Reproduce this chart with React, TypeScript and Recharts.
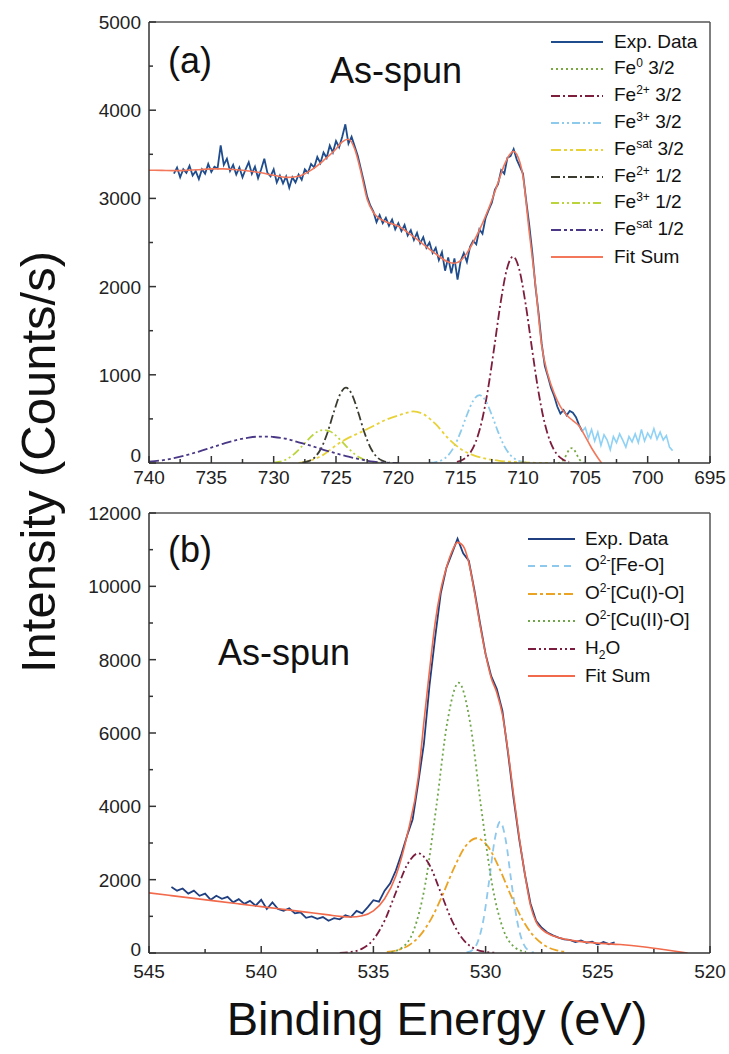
import React from "react";
import { LineChart, Line, XAxis, YAxis, ReferenceLine } from "recharts";

const FONT = '"Liberation Sans", Arial, Helvetica, sans-serif';
const INK = "#222";
const AXIS = "#333";

type P = [number, number];
const toPts = (a: P[]) => a.map(([x, y]) => ({ x, y }));

// ---------- (a) Fe 2p ----------
const feXTicks = [740, 737.5, 735, 732.5, 730, 727.5, 725, 722.5, 720, 717.5, 715, 712.5, 710, 707.5, 705, 702.5, 700, 697.5, 695];
const feXMajor = [740, 735, 730, 725, 720, 715, 710, 705, 700, 695];
const feYTicks = [0, 500, 1000, 1500, 2000, 2500, 3000, 3500, 4000, 4500, 5000];
const feYMajor = [0, 1000, 2000, 3000, 4000, 5000];

const feExp: P[] = [
  [738, 3280], [737.75, 3350], [737.5, 3240], [737.25, 3330], [737, 3290], [736.75, 3370], [736.5, 3260], [736.25, 3310],
  [736, 3220], [735.75, 3330], [735.5, 3280], [735.25, 3390], [735, 3300], [734.75, 3360], [734.5, 3340], [734.25, 3600],
  [734, 3380], [733.75, 3450], [733.5, 3310], [733.25, 3380], [733, 3270], [732.75, 3350], [732.5, 3240], [732.25, 3330],
  [732, 3410], [731.75, 3280], [731.5, 3360], [731.25, 3230], [731, 3330], [730.75, 3450], [730.5, 3290], [730.25, 3250],
  [730, 3330], [729.75, 3180], [729.5, 3260], [729.25, 3170], [729, 3250], [728.75, 3120], [728.5, 3240], [728.25, 3180],
  [728, 3270], [727.75, 3210], [727.5, 3330], [727.25, 3290], [727, 3390], [726.75, 3350], [726.5, 3470], [726.25, 3400],
  [726, 3520], [725.75, 3460], [725.5, 3600], [725.25, 3520], [725, 3650], [724.75, 3580], [724.5, 3700], [724.25, 3840],
  [724, 3620], [723.75, 3700], [723.5, 3590], [723.25, 3480], [723, 3330], [722.75, 3180], [722.5, 3020], [722.25, 2920],
  [722, 2850], [721.75, 2730], [721.5, 2810], [721.25, 2720], [721, 2780], [720.75, 2690], [720.5, 2760], [720.25, 2650],
  [720, 2720], [719.75, 2630], [719.5, 2700], [719.25, 2580], [719, 2640], [718.75, 2530], [718.5, 2610], [718.25, 2490],
  [718, 2560], [717.75, 2440], [717.5, 2500], [717.25, 2380], [717, 2440], [716.75, 2300], [716.5, 2390], [716.25, 2180],
  [716, 2330], [715.75, 2150], [715.5, 2320], [715.25, 2080], [715, 2290], [714.75, 2380], [714.5, 2280], [714.25, 2450],
  [714, 2520], [713.75, 2480], [713.5, 2650], [713.25, 2600], [713, 2780], [712.75, 2870], [712.5, 2950], [712.25, 3100],
  [712, 3160], [711.75, 3320], [711.5, 3280], [711.25, 3460], [711, 3480], [710.75, 3560], [710.5, 3440], [710.25, 3360],
  [710, 3280], [709.75, 2980], [709.5, 2700], [709.25, 2380], [709, 2000], [708.75, 1700], [708.5, 1350], [708.25, 1100],
  [708, 980], [707.75, 850], [707.5, 760], [707.25, 640], [707, 560], [706.75, 600], [706.5, 540], [706.25, 590],
  [706, 570], [705.75, 520], [705.5, 430], [705.25, 360],
];
const feExpTail: P[] = [
  [705.25, 360], [705, 400], [704.75, 280], [704.5, 380], [704.25, 250], [704, 350], [703.75, 200], [703.5, 320],
  [703.25, 260], [703, 150], [702.75, 300], [702.5, 230], [702.25, 330], [702, 260], [701.75, 180], [701.5, 300],
  [701.25, 240], [701, 330], [700.75, 230], [700.5, 380], [700.25, 250], [700, 340], [699.75, 280], [699.5, 390],
  [699.25, 270], [699, 350], [698.75, 260], [698.5, 310], [698.25, 180], [698, 140],
];
const fe0_32: P[] = [
  [707.2, 0], [706.9, 15], [706.7, 45], [706.5, 100], [706.3, 150], [706.1, 168], [705.9, 150], [705.7, 100],
  [705.5, 45], [705.3, 15], [705, 0],
];
const fe2_32: P[] = [
  [715.3, 13], [714.8, 40], [714.3, 103], [713.8, 236], [713.3, 475], [712.8, 843], [712.3, 1318], [711.8, 1813],
  [711.3, 2195], [710.8, 2340], [710.3, 2195], [709.8, 1813], [709.3, 1318], [708.8, 843], [708.3, 475], [707.8, 236],
  [707.3, 103], [706.8, 40], [706.3, 13],
];
const fe3_32: P[] = [
  [717.5, 3], [717, 11], [716.5, 34], [716, 88], [715.5, 192], [715, 353], [714.5, 544], [714, 706], [713.5, 770],
  [713, 706], [712.5, 544], [712, 353], [711.5, 192], [711, 88], [710.5, 34], [710, 11], [709.5, 3],
];
const feSat_32: P[] = [
  [728, 0], [727, 30], [726, 95], [725, 200], [724, 285], [723, 350], [722, 420], [721, 490], [720, 540], [719, 580],
  [718.8, 585], [718, 555], [717, 440], [716, 280], [715, 160], [714, 90], [713, 50], [712, 28], [711, 14], [710, 6],
  [709, 2], [708, 0],
];
const fe2_12: P[] = [
  [727.7, 5], [727.2, 21], [726.7, 65], [726.2, 164], [725.7, 337], [725.2, 566], [724.7, 771], [724.2, 855],
  [723.7, 771], [723.2, 566], [722.7, 337], [722.2, 164], [721.7, 65], [721.2, 21], [720.7, 5],
];
const fe3_12: P[] = [
  [730, 5], [729.5, 15], [729, 40], [728.5, 85], [728, 150], [727.5, 225], [727, 300], [726.5, 355], [726, 374],
  [725.5, 360], [725, 310], [724.5, 240], [724, 165], [723.5, 100], [723, 55], [722.5, 25], [722, 10], [721.5, 3],
];
const feSat_12: P[] = [
  [740, 15], [739, 30], [738, 55], [737, 90], [736, 130], [735, 175], [734, 220], [733, 260], [732, 288], [731, 300],
  [730.5, 300], [730, 295], [729, 275], [728, 235], [727, 195], [726, 150], [725, 110], [724, 72], [723, 40], [722, 15],
  [721, 3], [720, 0],
];
const feFit: P[] = [
  [740, 3320], [739, 3318], [738, 3315], [737, 3318], [736, 3325], [735, 3335], [734, 3335], [733, 3325], [732, 3310],
  [731, 3290], [730, 3262], [729, 3238], [728, 3252], [727, 3320], [726, 3430], [725, 3560], [724.5, 3640], [724, 3670],
  [723.5, 3560], [723, 3300], [722.5, 2990], [722, 2840], [721.5, 2770], [721, 2735], [720, 2685], [719, 2590],
  [718, 2480], [717, 2370], [716, 2280], [715.5, 2265], [715, 2295], [714.5, 2380], [714, 2500], [713.5, 2640],
  [713, 2800], [712.5, 2980], [712, 3180], [711.5, 3380], [711, 3510], [710.75, 3535], [710.5, 3500], [710, 3250],
  [709.5, 2620], [709, 2020], [708.5, 1330], [708, 1000], [707.5, 790], [707, 640], [706.5, 545], [706, 480],
  [705.5, 420], [705, 300], [704.5, 170], [704, 60], [703.7, 0],
];

// ---------- (b) O 1s ----------
const oXTicks = [545, 542.5, 540, 537.5, 535, 532.5, 530, 527.5, 525, 522.5, 520];
const oXMajor = [545, 540, 535, 530, 525, 520];
const oYTicks = [0, 1000, 2000, 3000, 4000, 5000, 6000, 7000, 8000, 9000, 10000, 11000, 12000];
const oYMajor = [0, 2000, 4000, 6000, 8000, 10000, 12000];

const oExp: P[] = [
  [544, 1800], [543.75, 1700], [543.5, 1760], [543.25, 1620], [543, 1700], [542.75, 1560], [542.5, 1620], [542.25, 1450],
  [542, 1560], [541.75, 1480], [541.5, 1530], [541.25, 1380], [541, 1470], [540.75, 1340], [540.5, 1420], [540.25, 1290],
  [540, 1450], [539.75, 1200], [539.5, 1380], [539.25, 1200], [539, 1150], [538.75, 1220], [538.5, 1080], [538.25, 1110],
  [538, 960], [537.75, 1000], [537.5, 930], [537.25, 980], [537, 880], [536.75, 950], [536.5, 920], [536.25, 1030],
  [536, 980], [535.75, 1150], [535.5, 1080], [535.25, 1250], [535, 1440], [534.75, 1400], [534.5, 1700], [534.25, 1900],
  [534, 2250], [533.75, 2700], [533.5, 3200], [533.25, 3650], [533, 4650], [532.75, 5700], [532.5, 7300], [532.25, 8600],
  [532, 9800], [531.75, 10500], [531.5, 10900], [531.25, 11300], [531, 10900], [530.75, 10700], [530.5, 9900], [530.25, 9000],
  [530, 8150], [529.75, 7550], [529.5, 7200], [529.25, 6600], [529, 5450], [528.75, 4200], [528.5, 3100], [528.25, 2150],
  [528, 1350], [527.75, 880], [527.5, 690], [527.25, 560], [527, 480], [526.75, 420], [526.5, 370], [526.25, 360],
  [526, 300], [525.75, 340], [525.5, 280], [525.25, 310], [525, 230], [524.75, 300], [524.5, 240], [524.25, 290],
];
const oFeO: P[] = [
  [530.85, 14], [530.6, 76], [530.35, 303], [530.1, 892], [529.85, 1930], [529.6, 3068], [529.35, 3580], [529.1, 3068],
  [528.85, 1930], [528.6, 892], [528.35, 303], [528.1, 76], [527.85, 14],
];
const oCu1: P[] = [
  [534.4, 28], [533.9, 84], [533.4, 218], [532.9, 493], [532.4, 959], [531.9, 1608], [531.4, 2328], [530.9, 2907],
  [530.4, 3130], [529.9, 2907], [529.4, 2328], [528.9, 1608], [528.4, 959], [527.9, 493], [527.4, 218], [526.9, 84],
  [526.4, 28],
];
const oCu2: P[] = [
  [534.2, 28], [533.7, 156], [533.2, 623], [532.7, 1838], [532.2, 3975], [531.7, 6320], [531.2, 7370], [530.7, 6320],
  [530.2, 3975], [529.7, 1838], [529.2, 623], [528.7, 156], [528.2, 28],
];
const oH2O: P[] = [
  [536.5, 6], [536, 30], [535.5, 119], [535, 368], [534.5, 883], [534, 1650], [533.5, 2400], [533, 2720], [532.5, 2400],
  [532, 1650], [531.5, 883], [531, 368], [530.5, 119], [530, 30], [529.5, 6],
];
const oFit: P[] = [
  [545, 1640], [544, 1565], [543, 1490], [542, 1415], [541, 1340], [540, 1265], [539, 1190], [538, 1115], [537, 1040],
  [536.5, 1000], [536, 980], [535.5, 1015], [535, 1150], [534.5, 1480], [534, 2100], [533.5, 3200], [533, 4800],
  [532.75, 6300], [532.5, 7700], [532.25, 9000], [532, 9900], [531.75, 10500], [531.5, 10950], [531.25, 11200],
  [531, 11100], [530.75, 10650], [530.5, 9850], [530.25, 8950], [530, 8150], [529.75, 7500], [529.5, 7100],
  [529.25, 6500], [529, 5500], [528.75, 4300], [528.5, 3150], [528.25, 2150], [528, 1300], [527.75, 850], [527.5, 650],
  [527, 470], [526.5, 380], [526, 330], [525, 270], [524, 230], [523, 170], [522, 90], [521, 0],
];

const Sup = ({ children }: { children: React.ReactNode }) => (
  <span style={{ fontSize: 12, position: "relative", top: -7 }}>{children}</span>
);
const Sub = ({ children }: { children: React.ReactNode }) => (
  <span style={{ fontSize: 12, position: "relative", top: 5 }}>{children}</span>
);

type Series = { key: string; data: P[]; color: string; dash?: string; width?: number; label?: React.ReactNode; smooth?: boolean };

const feSeries: Series[] = [
  { key: "exp", data: feExp, color: "#1f4c8c", width: 1.8, label: "Exp. Data" },
  { key: "fe0", data: fe0_32, color: "#79a842", dash: "2 3", smooth: true, label: <>Fe<Sup>0</Sup> 3/2</> },
  { key: "fe2a", data: fe2_32, color: "#7d1e3c", dash: "9 3 2 3", smooth: true, label: <>Fe<Sup>2+</Sup> 3/2</> },
  { key: "fe3a", data: fe3_32, color: "#8ccbec", dash: "8 3 2 3 2 3", smooth: true, label: <>Fe<Sup>3+</Sup> 3/2</> },
  { key: "fesa", data: feSat_32, color: "#e8d23a", dash: "10 3 3 3 3 3", smooth: true, label: <>Fe<Sup>sat</Sup> 3/2</> },
  { key: "fe2b", data: fe2_12, color: "#3b3b30", dash: "9 3 2 3", smooth: true, label: <>Fe<Sup>2+</Sup> 1/2</> },
  { key: "fe3b", data: fe3_12, color: "#bcd43c", dash: "8 3 2 3 2 3", smooth: true, label: <>Fe<Sup>3+</Sup> 1/2</> },
  { key: "fesb", data: feSat_12, color: "#4a3886", dash: "10 3 3 3 3 3", smooth: true, label: <>Fe<Sup>sat</Sup> 1/2</> },
  { key: "fit", data: feFit, color: "#f3775a", width: 1.6, smooth: true, label: "Fit Sum" },
];

const oSeries: Series[] = [
  { key: "exp", data: oExp, color: "#1f3f80", width: 1.8, label: "Exp. Data" },
  { key: "feo", data: oFeO, color: "#8ec8ec", dash: "7 5", smooth: true, label: <>O<Sup>2-</Sup>[Fe-O]</> },
  { key: "cu1", data: oCu1, color: "#eba324", dash: "9 3 3 3", smooth: true, label: <>O<Sup>2-</Sup>[Cu(I)-O]</> },
  { key: "cu2", data: oCu2, color: "#6fa64a", dash: "2 3", smooth: true, label: <>O<Sup>2-</Sup>[Cu(II)-O]</> },
  { key: "h2o", data: oH2O, color: "#7b1c3e", dash: "8 3 2 3 2 3", smooth: true, label: <>H<Sub>2</Sub>O</> },
  { key: "fit", data: oFit, color: "#f16a4c", width: 1.6, smooth: true, label: "Fit Sum" },
];

function XTick(props: any) {
  const { x, y, payload, major, dy } = props;
  const isMajor = major.includes(payload.value);
  return (
    <g>
      <line x1={x} x2={x} y1={y} y2={y - (isMajor ? 7 : 4)} stroke={AXIS} strokeWidth={1.5} />
      {isMajor && (
        <text x={x} y={y + dy} textAnchor="middle" fontSize={19} fill={INK} fontFamily={FONT}>
          {payload.value}
        </text>
      )}
    </g>
  );
}

function YTick(props: any) {
  const { x, y, payload, major, zeroDy } = props;
  const isMajor = major.includes(payload.value);
  // the zero label sits a little higher so it clears the first x label
  const dy = payload.value === 0 ? zeroDy : 7;
  return (
    <g>
      <line x1={x} x2={x + (isMajor ? 7 : 4)} y1={y} y2={y} stroke={AXIS} strokeWidth={1.5} />
      {isMajor && (
        <text x={x - 8} y={y + dy} textAnchor="end" fontSize={19} fill={INK} fontFamily={FONT}>
          {payload.value}
        </text>
      )}
    </g>
  );
}

function renderLine(s: Series) {
  return (
    <Line
      key={s.key}
      data={toPts(s.data)}
      dataKey="y"
      type={s.smooth ? "monotone" : "linear"}
      stroke={s.color}
      strokeWidth={s.width ?? 1.8}
      strokeDasharray={s.dash}
      dot={false}
      activeDot={false}
      isAnimationActive={false}
    />
  );
}

function LegendBox({ items, left, top, step, sampleW, gap }: { items: Series[]; left: number; top: number; step: number; sampleW: number; gap: number }) {
  return (
    <div style={{ position: "absolute", left, top, fontFamily: FONT, fontSize: 19, color: "#111" }}>
      {items.map((it, i) => (
        <div
          key={it.key}
          style={{ position: "absolute", left: 0, top: i * step - 12, height: 24, display: "flex", alignItems: "center", whiteSpace: "nowrap" }}
        >
          <svg width={sampleW} height={24} style={{ display: "block" }}>
            <line x1={0} x2={sampleW} y1={12} y2={12} stroke={it.color} strokeWidth={2} strokeDasharray={it.dash} />
          </svg>
          <span style={{ marginLeft: gap, lineHeight: "24px" }}>{it.label}</span>
        </div>
      ))}
    </div>
  );
}

const axisLine = { stroke: AXIS, strokeWidth: 1.5 };

export default function App() {
  return (
    <div style={{ position: "absolute", left: 0, top: 0, width: 729, height: 1054, background: "#fff", fontFamily: FONT }}>
      <div style={{ position: "absolute", left: 0, top: 0 }}>
        <LineChart width={729} height={500} margin={{ top: 22, right: 19, bottom: 0, left: 0 }}>
          <XAxis
            type="number"
            dataKey="x"
            domain={[695, 740]}
            reversed
            allowDataOverflow
            ticks={feXTicks}
            interval={0}
            height={37}
            tickSize={0}
            tickMargin={0}
            tickLine={false}
            axisLine={axisLine}
            tick={(p: any) => <XTick {...p} major={feXMajor} dy={21} />}
          />
          <YAxis
            type="number"
            domain={[0, 5000]}
            allowDataOverflow
            ticks={feYTicks}
            interval={0}
            width={149}
            tickSize={0}
            tickMargin={0}
            tickLine={false}
            axisLine={axisLine}
            tick={(p: any) => <YTick {...p} major={feYMajor} zeroDy={-1} />}
          />
          <ReferenceLine x={695} stroke="#555" strokeWidth={1.5} />
          <ReferenceLine y={5000} stroke="#555" strokeWidth={1.5} />
          {feSeries.slice(1, 8).map(renderLine)}
          {renderLine(feSeries[0])}
          {renderLine({ key: "tail", data: feExpTail, color: "#8fd2f6", width: 1.6 })}
          {renderLine(feSeries[8])}
        </LineChart>
      </div>

      <div style={{ position: "absolute", left: 0, top: 500 }}>
        <LineChart width={729} height={500} margin={{ top: 13, right: 19, bottom: 0, left: 0 }}>
          <XAxis
            type="number"
            dataKey="x"
            domain={[520, 545]}
            reversed
            allowDataOverflow
            ticks={oXTicks}
            interval={0}
            height={47}
            tickSize={0}
            tickMargin={0}
            tickLine={false}
            axisLine={axisLine}
            tick={(p: any) => <XTick {...p} major={oXMajor} dy={25} />}
          />
          <YAxis
            type="number"
            domain={[0, 12000]}
            allowDataOverflow
            ticks={oYTicks}
            interval={0}
            width={149}
            tickSize={0}
            tickMargin={0}
            tickLine={false}
            axisLine={axisLine}
            tick={(p: any) => <YTick {...p} major={oYMajor} zeroDy={3} />}
          />
          <ReferenceLine x={520} stroke="#555" strokeWidth={1.5} />
          <ReferenceLine y={12000} stroke="#555" strokeWidth={1.5} />
          {oSeries.slice(1, 5).map(renderLine)}
          {renderLine(oSeries[0])}
          {renderLine(oSeries[5])}
        </LineChart>
      </div>

      <LegendBox items={feSeries} left={551} top={42} step={26.9} sampleW={52} gap={11} />
      <LegendBox items={oSeries} left={528} top={539} step={27.4} sampleW={47} gap={10} />

      <svg width={729} height={1054} style={{ position: "absolute", left: 0, top: 0, pointerEvents: "none" }}>
        <g fontFamily={FONT} fill="#111">
          <text x={168} y={73} fontSize={36}>(a)</text>
          <text x={330} y={83} fontSize={36}>As-spun</text>
          <text x={168} y={562} fontSize={36}>(b)</text>
          <text x={218} y={665} fontSize={36}>As-spun</text>
          <text x={55} y={462} fontSize={49} textAnchor="middle" transform="rotate(-90 55 462)">
            Intensity (Counts/s)
          </text>
          <text x={437} y={1035} fontSize={47} textAnchor="middle">
            Binding Energy (eV)
          </text>
        </g>
      </svg>
    </div>
  );
}
